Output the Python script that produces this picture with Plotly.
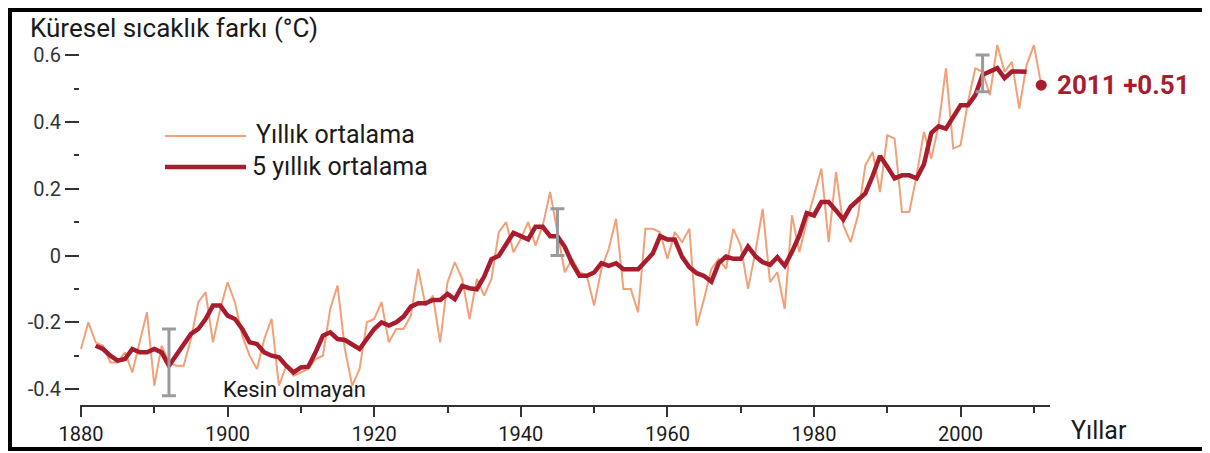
import plotly.graph_objects as go

# ---------------- data ----------------
years = list(range(1880, 2012))
annual = [
    -0.28, -0.20, -0.26, -0.27, -0.32, -0.32, -0.29, -0.35, -0.26, -0.17,   # 1880s
    -0.39, -0.27, -0.32, -0.33, -0.33, -0.25, -0.14, -0.11, -0.26, -0.16,   # 1890s
    -0.08, -0.14, -0.24, -0.30, -0.34, -0.25, -0.19, -0.39, -0.33, -0.36,   # 1900s
    -0.35, -0.34, -0.31, -0.30, -0.16, -0.09, -0.28, -0.39, -0.34, -0.20,   # 1910s
    -0.19, -0.14, -0.26, -0.22, -0.22, -0.18, -0.04, -0.15, -0.12, -0.26,   # 1920s
    -0.08, -0.02, -0.07, -0.19, -0.07, -0.12, -0.07, 0.07, 0.10, 0.01,      # 1930s
    0.05, 0.10, 0.03, 0.09, 0.19, 0.07, -0.05, -0.01, -0.05, -0.06,         # 1940s
    -0.15, -0.04, 0.02, 0.11, -0.10, -0.10, -0.17, 0.08, 0.08, 0.07,        # 1950s
    -0.01, 0.07, 0.04, 0.08, -0.21, -0.13, -0.04, -0.01, -0.04, 0.08,       # 1960s
    0.03, -0.10, 0.01, 0.14, -0.08, -0.05, -0.16, 0.12, 0.01, 0.10,         # 1970s
    0.18, 0.26, 0.04, 0.25, 0.09, 0.04, 0.12, 0.27, 0.31, 0.19,             # 1980s
    0.36, 0.35, 0.13, 0.13, 0.24, 0.37, 0.29, 0.39, 0.56, 0.32,             # 1990s
    0.33, 0.46, 0.56, 0.55, 0.48, 0.63, 0.55, 0.58, 0.44, 0.57,             # 2000s
    0.63, 0.51,                                                             # 2010-2011
]

years5 = list(range(1882, 2010))
five_year = [
    -0.27, -0.28, -0.30, -0.315, -0.31, -0.28, -0.29, -0.29,                # 1882-1889
    -0.28, -0.29, -0.33, -0.30, -0.265, -0.235, -0.22, -0.19, -0.15, -0.15, # 1890s
    -0.18, -0.19, -0.22, -0.26, -0.265, -0.29, -0.30, -0.305, -0.33, -0.35, # 1900s
    -0.335, -0.333, -0.29, -0.24, -0.23, -0.25, -0.253, -0.265, -0.28, -0.25,  # 1910s
    -0.22, -0.20, -0.21, -0.20, -0.183, -0.153, -0.143, -0.143, -0.133, -0.133,  # 1920s
    -0.115, -0.131, -0.091, -0.098, -0.101, -0.063, -0.011, -0.001, 0.035, 0.068,  # 1930s
    0.058, 0.048, 0.086, 0.086, 0.058, 0.058, 0.026, -0.023, -0.061, -0.061,  # 1940s
    -0.051, -0.023, -0.031, -0.023, -0.041, -0.041, -0.041, -0.018, 0.006, 0.058,  # 1950s
    0.048, 0.048, -0.004, -0.035, -0.053, -0.061, -0.078, -0.023, -0.003, -0.010,  # 1960s
    -0.010, 0.027, -0.002, -0.020, -0.028, -0.005, -0.031, 0.011, 0.060, 0.127,  # 1970s
    0.120, 0.160, 0.160, 0.135, 0.108, 0.146, 0.168, 0.186, 0.238, 0.298,  # 1980s
    0.266, 0.231, 0.240, 0.240, 0.231, 0.273, 0.367, 0.387, 0.380, 0.415,  # 1990s
    0.450, 0.450, 0.480, 0.541, 0.550, 0.561, 0.531, 0.551, 0.551, 0.550,  # 2000s
]

# uncertainty bars
unc_years = [1892, 1945, 2003]
unc_center = [-0.32, 0.07, 0.545]
unc_half = [0.10, 0.07, 0.055]

y_tickvals = [-0.4, -0.2, 0, 0.2, 0.4, 0.6]
y_ticktext = ["-0.4", "-0.2", "0", "0.2", "0.4", "0.6"]
x_tickvals = [1880, 1900, 1920, 1940, 1960, 1980, 2000]
x_ticktext = ["1880", "1900", "1920", "1940", "1960", "1980", "2000"]

title_text = "Küresel sıcaklık farkı (°C)"
legend_annual = "Yıllık ortalama"
legend_five = "5 yıllık ortalama"
uncertain_text = "Kesin olmayan"
x_title = "Yıllar"

# ---------------- style ----------------
ORANGE = "#f1a077"
RED = "#a81c2e"
GRAY = "#9b9b9b"
TXT = "#1a1a1a"
FONT = "Roboto, Open Sans, sans-serif"

OFF = 8                       # page body margin
W, H = 1202, 445              # figure size (page is 1210 x 453)
L, R, T, B = 72, 160, 32, 48  # plot area: page x 80..1050, page y 40..405
PW, PH = W - L - R, H - T - B


def px(xp):
    """page pixel x -> paper coordinate"""
    return (xp - OFF - L) / PW


def py(yp):
    """page pixel y -> paper coordinate"""
    return (H - B - (yp - OFF)) / PH


fig = go.Figure()

fig.add_trace(go.Scatter(x=years, y=annual, mode="lines",
                         line=dict(color=ORANGE, width=2), showlegend=False,
                         hoverinfo="skip"))
fig.add_trace(go.Scatter(x=years5, y=five_year, mode="lines",
                         line=dict(color=RED, width=4.5), showlegend=False,
                         hoverinfo="skip"))
fig.add_trace(go.Scatter(x=unc_years, y=unc_center, mode="markers",
                         marker=dict(size=1, color="rgba(0,0,0,0)"),
                         error_y=dict(type="data", array=unc_half, visible=True,
                                      color=GRAY, thickness=3, width=7),
                         showlegend=False, hoverinfo="skip"))
fig.add_trace(go.Scatter(x=[years[-1]], y=[annual[-1]], mode="markers",
                         marker=dict(size=11, color=RED), showlegend=False,
                         hoverinfo="skip"))

annotations = [
    dict(x=years[-1], y=annual[-1], xref="x", yref="y", xanchor="left", yanchor="middle",
         xshift=14, showarrow=False,
         text="<b>%d +%.2f</b>" % (years[-1], annual[-1]),
         font=dict(family=FONT, size=26, color=RED)),
    dict(x=px(28), y=py(28), xref="paper", yref="paper", xanchor="left", yanchor="middle",
         showarrow=False, text=title_text, font=dict(family=FONT, size=26, color=TXT)),
    dict(x=px(254), y=py(134), xref="paper", yref="paper", xanchor="left", yanchor="middle",
         showarrow=False, text=legend_annual, font=dict(family=FONT, size=25, color=TXT)),
    dict(x=px(250), y=py(166), xref="paper", yref="paper", xanchor="left", yanchor="middle",
         showarrow=False, text=legend_five, font=dict(family=FONT, size=25, color=TXT)),
    dict(x=px(294), y=py(389), xref="paper", yref="paper", xanchor="center", yanchor="middle",
         showarrow=False, text=uncertain_text, font=dict(family=FONT, size=22, color=TXT)),
    dict(x=px(1099), y=py(430), xref="paper", yref="paper", xanchor="center", yanchor="middle",
         showarrow=False, text=x_title, font=dict(family=FONT, size=25, color=TXT)),
]

shapes = [
    dict(type="line", xref="paper", yref="paper", x0=px(165), x1=px(246), y0=py(136), y1=py(136),
         line=dict(color=ORANGE, width=2)),
    dict(type="line", xref="paper", yref="paper", x0=px(165), x1=px(246), y0=py(167), y1=py(167),
         line=dict(color=RED, width=4.5)),
    dict(type="rect", xref="paper", yref="paper", x0=px(OFF + 2), x1=px(1204),
         y0=py(449), y1=py(OFF + 2),
         line=dict(color="black", width=4), fillcolor="rgba(0,0,0,0)", layer="above"),
]

fig.update_layout(
    width=W, height=H, autosize=False,
    margin=dict(l=L, r=R, t=T, b=B, pad=0, autoexpand=False),
    plot_bgcolor="white", paper_bgcolor="white",
    font=dict(family=FONT, color=TXT),
    annotations=annotations, shapes=shapes,
    showlegend=False,
    xaxis=dict(
        range=[1879.864, 2012.197], showgrid=False, zeroline=False, automargin=False,
        showline=True, linecolor="#333", linewidth=2,
        ticks="outside", ticklen=10, tickwidth=2, tickcolor="#333",
        tickvals=x_tickvals, ticktext=x_ticktext,
        tickfont=dict(family=FONT, size=20, color=TXT),
        minor=dict(dtick=10, tick0=1880, ticks="outside", ticklen=6, tickwidth=2, tickcolor="#333"),
        fixedrange=True,
    ),
    yaxis=dict(
        range=[-0.4476, 0.6452], showgrid=False, zeroline=False, showline=False, automargin=False,
        ticks="outside", ticklen=14, tickwidth=2, tickcolor="#333",
        tickvals=y_tickvals, ticktext=y_ticktext,
        tickfont=dict(family=FONT, size=20, color="#333"),
        minor=dict(dtick=0.1, tick0=0, ticks="outside", ticklen=5, tickwidth=2, tickcolor="#333"),
        fixedrange=True,
    ),
)

fig.write_html("out.html", config={"displayModeBar": False})
